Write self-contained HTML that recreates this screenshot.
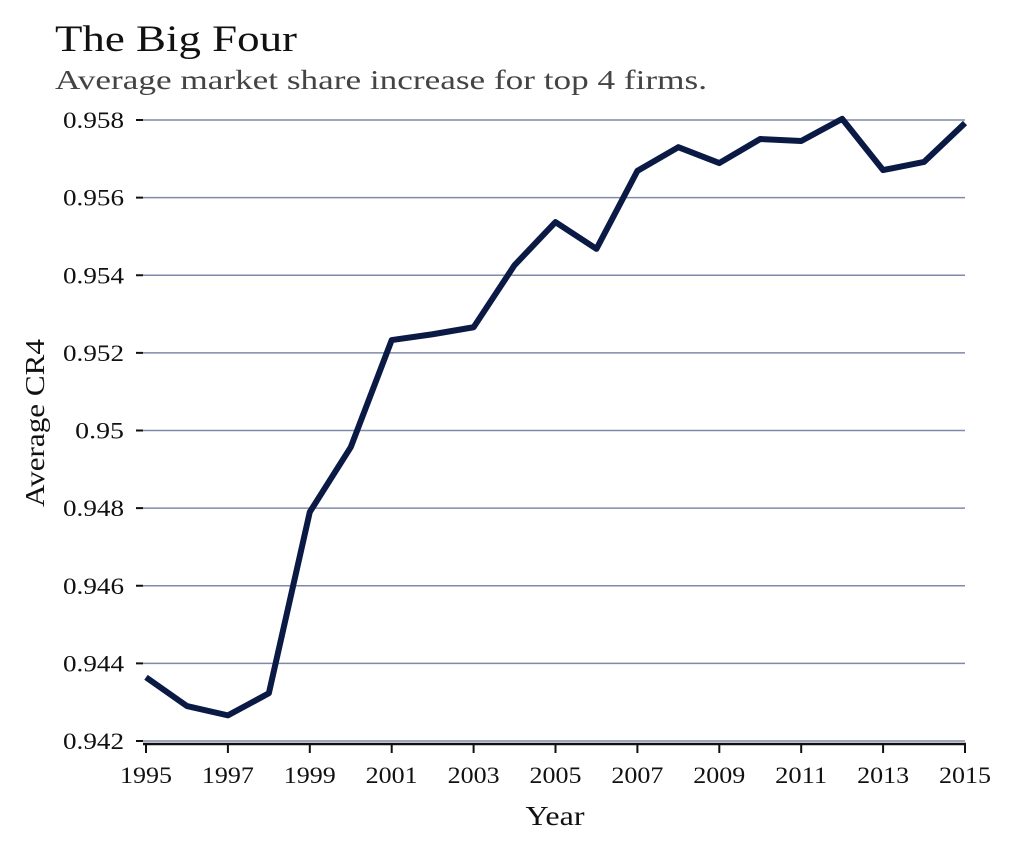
<!DOCTYPE html>
<html><head><meta charset="utf-8"><style>
body{margin:0;background:#fff;}
svg text{font-family:"Liberation Serif",serif;}
</style></head><body>
<svg id="chart" width="1011" height="851" xmlns="http://www.w3.org/2000/svg">
<text x="55" y="51" font-size="37" fill="#111" textLength="242" lengthAdjust="spacingAndGlyphs">The Big Four</text>
<text x="55" y="89" font-size="27" fill="#444" textLength="652" lengthAdjust="spacingAndGlyphs">Average market share increase for top 4 firms.</text>
<g id="grid"></g><g id="axes"></g><g id="series"></g>
<text x="555" y="825" font-size="27" text-anchor="middle" fill="#111" textLength="59" lengthAdjust="spacingAndGlyphs">Year</text>
<text transform="translate(44,423) rotate(-90)" font-size="27" text-anchor="middle" fill="#111" textLength="168" lengthAdjust="spacingAndGlyphs">Average CR4</text>
</svg>
<script>
const years=[1995,1996,1997,1998,1999,2000,2001,2002,2003,2004,2005,2006,2007,2008,2009,2010,2011,2012,2013,2014,2015];
const cr4=[0.94364,0.94290,0.94266,0.94323,0.94790,0.94957,0.95233,0.95248,0.95266,0.95426,0.95537,0.95468,0.95669,0.95730,0.95689,0.95751,0.95746,0.95803,0.95671,0.95692,0.95792];
const yTicks=[0.942,0.944,0.946,0.948,0.95,0.952,0.954,0.956,0.958];
const xTicks=[1995,1997,1999,2001,2003,2005,2007,2009,2011,2013,2015];
const NS="http://www.w3.org/2000/svg";
const X0=146,X1=965,Y0=741,Y1=120;
const xs=v=>X0+(v-1995)/(2015-1995)*(X1-X0);
const ys=v=>Y0-(v-0.942)/(0.958-0.942)*(Y0-Y1);
function mk(tag,attrs,parent){const e=document.createElementNS(NS,tag);for(const k in attrs)e.setAttribute(k,attrs[k]);document.getElementById(parent).appendChild(e);return e;}
yTicks.forEach(t=>{
 const y=ys(t);
 const g=mk('line',{x1:X0-4,x2:X1,y1:y,y2:y,stroke:'#7f8aa8','stroke-width':1.5},'grid');
 
 
 const tk=mk('line',{x1:X0-10,x2:X0-3,y1:y,y2:y,stroke:'#111','stroke-width':2},'axes');
 
 
 const s=String(t);
 const l=mk('text',{x:X0-22,y:y+8,'font-size':23,'text-anchor':'end',fill:'#111',textLength:s.length*12.2,lengthAdjust:'spacingAndGlyphs'},'axes');
 l.textContent=s;
 
 
});
const ax=mk('line',{x1:X0-3,x2:X1+1,y1:Y0+3,y2:Y0+3,stroke:'#111','stroke-width':2.5},'axes');


xTicks.forEach(t=>{
 const x=xs(t);
 const tk=mk('line',{x1:x,x2:x,y1:Y0+3,y2:Y0+12,stroke:'#111','stroke-width':2},'axes');
 
 
 const l=mk('text',{x:x,y:Y0+42,'font-size':23,'text-anchor':'middle',fill:'#111',textLength:52,lengthAdjust:'spacingAndGlyphs'},'axes');
 l.textContent=String(t);
 
 
});
const p=mk('polyline',{points:years.map((yr,i)=>xs(yr)+','+ys(cr4[i])).join(' '),fill:'none',stroke:'#0b1a45','stroke-width':6,'stroke-linejoin':'round'},'series');


</script>
</body></html>
